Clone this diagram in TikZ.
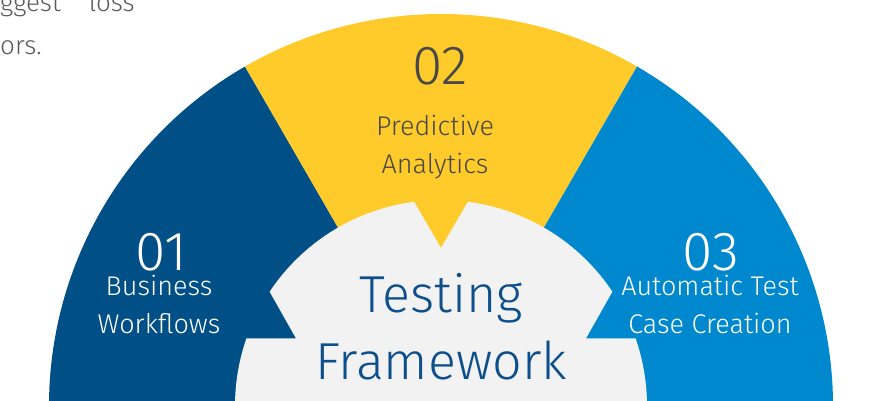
\documentclass[tikz,border=0pt]{standalone}
\usepackage{fontspec}
\setmainfont{Fira Sans}[UprightFont={* Light}]
\usepackage{tikz}
\usetikzlibrary{calc}
\definecolor{darkblue}{HTML}{004F87}
\definecolor{sunyellow}{HTML}{FFCB2B}
\definecolor{skyblue}{HTML}{0088CF}
\definecolor{hubgray}{HTML}{F2F2F2}
\definecolor{titleblue}{HTML}{0D4F8B}
\definecolor{txtgray}{HTML}{484848}
\definecolor{paragray}{HTML}{5A5A5A}

\begin{document}
\begin{tikzpicture}[x=1pt,y=1pt,
    num/.style={inner sep=0pt, anchor=north, text depth=0pt, font=\fontsize{55}{55}\selectfont},
    lbl/.style={inner sep=0pt, anchor=north, align=center, font=\fontsize{27}{38}\selectfont},
    title/.style={inner sep=0pt, anchor=north, align=center, text=titleblue, font=\fontsize{52}{67}\selectfont},
    para/.style={inner sep=0pt, anchor=base west, text=paragray, font=\fontsize{26}{45}\selectfont}]
    \useasboundingbox (0,0) rectangle (875,401);
    \clip (0,0) rectangle (875,401);
    \coordinate (O) at (441,-5);
    % three outer sectors
    \fill[darkblue] (O) -- ++(180:392) arc (180:120:392) -- cycle;
    \fill[sunyellow] (O) -- ++(120:392) arc (120:60:392) -- cycle;
    \fill[skyblue] (O) -- ++(60:392) arc (60:0:392) -- cycle;
    % hub with the three pointers
    \fill[hubgray] ($(O)+(180:206)$) arc (180:160.8:206)
        -- ($(O)+(155:160)$) -- ($(O)+(146.3:206)$) arc (146.3:97.5:206)
        -- ($(O)+(90:158)$) -- ($(O)+(82.5:206)$) arc (82.5:33.7:206)
        -- ($(O)+(25:160)$) -- ($(O)+(19.2:206)$) arc (19.2:0:206) -- cycle;
    % labels
    \node[num, text=white] (n1) at (161,168) {01};
    \node[num, text=txtgray] (n2) at (440,354) {02};
    \node[num, text=white] (n3) at (711,168) {03};
    \node[lbl, text=white] (l1) at (159,126) {Business\\Workflows};
    \node[lbl, text=txtgray] (l2) at (435,286) {Predictive\\Analytics};
    \node[lbl, text=white] (l3) at (710,126) {Automatic Test\\Case Creation};
    \node[title] (hub) at (441,128) {Testing\\Framework};
    % cut-off paragraph, top left
    \node[para] (t1) at (0,389) {ggest\hspace{28pt}loss};
    \node[para] (t2) at (0,346) {ors.};
\end{tikzpicture}
\end{document}
